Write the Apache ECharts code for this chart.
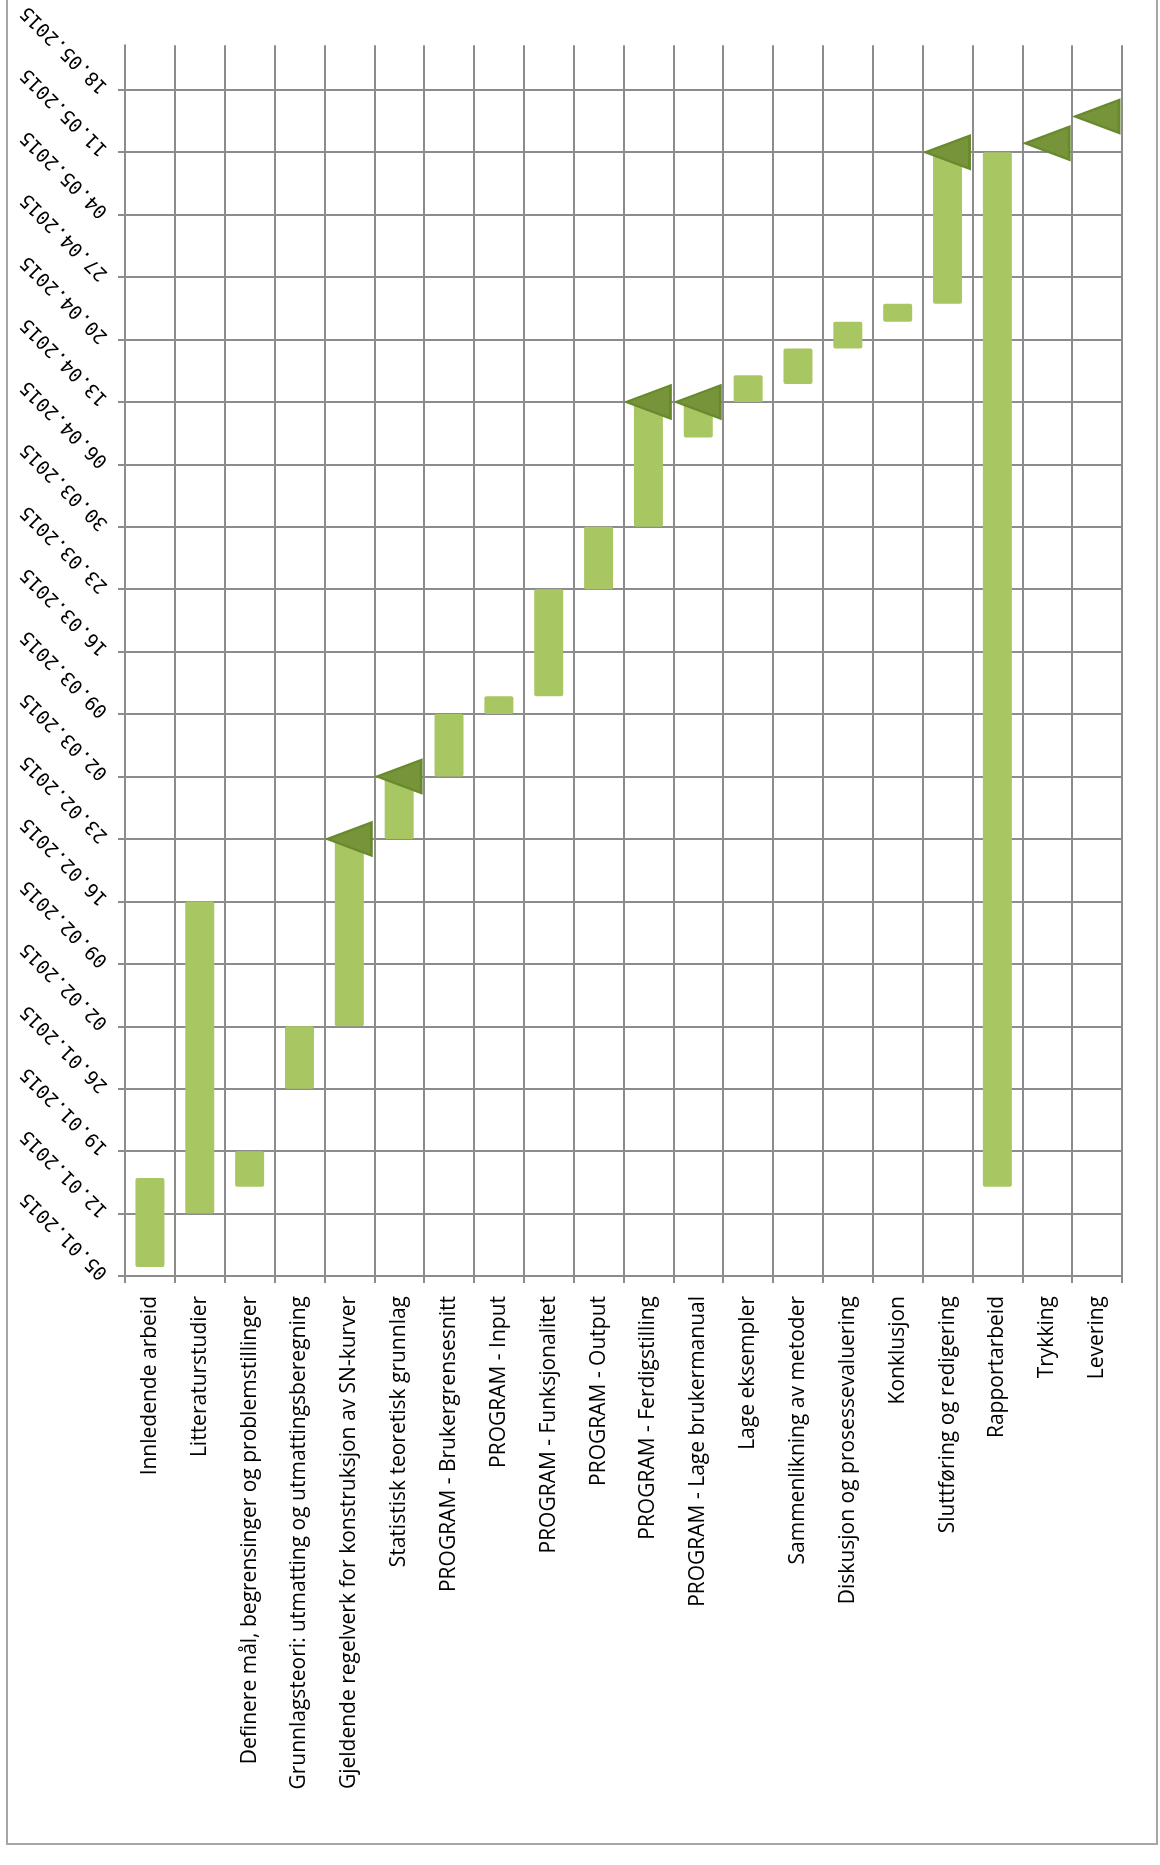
<!DOCTYPE html>
<html>
<head>
<meta charset="utf-8">
<title>Fremdriftsplan</title>
<script src="https://cdn.jsdelivr.net/npm/echarts@6/dist/echarts.min.js"></script>
<style>
  html, body { margin: 0; padding: 0; background: #ffffff; }
  #chart { width: 1160px; height: 1865px; }
</style>
</head>
<body>
<div id="chart"></div>
<script>
// Activities (one column each), with start and end date of the work period
const categories = [
  'Innledende arbeid',
  'Litteraturstudier',
  'Definere mål, begrensinger og problemstillinger',
  'Grunnlagsteori: utmatting og utmattingsberegning',
  'Gjeldende regelverk for konstruksjon av SN-kurver',
  'Statistisk teoretisk grunnlag',
  'PROGRAM - Brukergrensesnitt',
  'PROGRAM - Input',
  'PROGRAM - Funksjonalitet',
  'PROGRAM - Output',
  'PROGRAM - Ferdigstilling',
  'PROGRAM - Lage brukermanual',
  'Lage eksempler',
  'Sammenlikning av metoder',
  'Diskusjon og prosessevaluering',
  'Konklusjon',
  'Sluttføring og redigering',
  'Rapportarbeid',
  'Trykking',
  'Levering'
];

const startDates = [
  '06.01.2015', '12.01.2015', '15.01.2015', '26.01.2015', '02.02.2015',
  '23.02.2015', '02.03.2015', '09.03.2015', '11.03.2015', '23.03.2015',
  '30.03.2015', '09.04.2015', '13.04.2015', '15.04.2015', '19.04.2015',
  '22.04.2015', '24.04.2015', '15.01.2015', null, null
];

const endDates = [
  '16.01.2015', '16.02.2015', '19.01.2015', '02.02.2015', '23.02.2015',
  '02.03.2015', '09.03.2015', '11.03.2015', '23.03.2015', '30.03.2015',
  '13.04.2015', '13.04.2015', '16.04.2015', '19.04.2015', '22.04.2015',
  '24.04.2015', '11.05.2015', '11.05.2015', null, null
];

// Milestones (deadlines) shown as triangles
const milestoneDates = [
  null, null, null, null, '23.02.2015',
  '02.03.2015', null, null, null, null,
  '13.04.2015', '13.04.2015', null, null, null,
  null, '11.05.2015', null, '12.05.2015', '15.05.2015'
];

// Date axis: weekly ticks from 05.01.2015, axis ends on 23.05.2015
const axisStartDate = '05.01.2015';
const axisEndDate = '23.05.2015';
const tickStepDays = 7;

const DAY_MS = 86400000;
function parseDate(s) {
  const p = s.split('.');
  return Date.UTC(+p[2], +p[1] - 1, +p[0]);
}
const originMs = parseDate(axisStartDate);
function toDay(s) {
  return s == null ? null : Math.round((parseDate(s) - originMs) / DAY_MS);
}
function pad(n) { return (n < 10 ? '0' : '') + n; }
function formatDay(d) {
  const dt = new Date(originMs + d * DAY_MS);
  return pad(dt.getUTCDate()) + '.' + pad(dt.getUTCMonth() + 1) + '.' + dt.getUTCFullYear();
}

const startDays = startDates.map(toDay);
const durationDays = endDates.map((e, i) =>
  e == null || startDates[i] == null ? null : toDay(e) - toDay(startDates[i]));
const milestonePoints = [];
milestoneDates.forEach((m, i) => {
  if (m != null) milestonePoints.push([categories[i], toDay(m)]);
});

const gridColor = '#8c8c8c';
const chart = echarts.init(document.getElementById('chart'), null, { renderer: 'canvas' });

chart.setOption({
  animation: false,
  backgroundColor: '#ffffff',
  graphic: [{
    type: 'polyline',
    shape: { points: [[7, -4], [7, 1844], [1157, 1844], [1157, -4]] },
    style: { stroke: '#a6a6a6', lineWidth: 2, fill: null },
    silent: true
  }],
  grid: { left: 125, right: 38, top: 39, bottom: 589, containLabel: false },
  xAxis: {
    type: 'category',
    data: categories,
    boundaryGap: true,
    axisLine: { show: true, lineStyle: { color: gridColor, width: 2 } },
    axisTick: { show: true, length: 7, alignWithLabel: false, interval: 0,
                lineStyle: { color: gridColor, width: 2 } },
    splitLine: { show: true, interval: 0, lineStyle: { color: gridColor, width: 2 } },
    axisLabel: {
      interval: 0,
      rotate: 90,
      margin: 20,
      color: '#000000',
      fontFamily: 'Open Sans',
      fontSize: 21
    }
  },
  yAxis: {
    type: 'value',
    min: 0,
    max: toDay(axisEndDate),
    interval: tickStepDays,
    axisLine: { show: true, lineStyle: { color: gridColor, width: 2 } },
    axisTick: { show: true, length: 7, lineStyle: { color: gridColor, width: 2 } },
    splitLine: { show: true, showMaxLine: false, lineStyle: { color: gridColor, width: 2 } },
    axisLabel: {
      rotate: 135,
      margin: 20,
      showMaxLabel: false,
      color: '#000000',
      fontFamily: 'DejaVu Sans Mono',
      fontSize: 19,
      formatter: (v) => formatDay(v)
    }
  },
  series: [
    {
      name: 'start',
      type: 'bar',
      stack: 'plan',
      data: startDays,
      barWidth: 29,
      itemStyle: { color: 'transparent' },
      silent: true
    },
    {
      name: 'periode',
      type: 'bar',
      stack: 'plan',
      data: durationDays,
      barWidth: 29,
      itemStyle: { color: '#a8c762', borderRadius: 2 }
    },
    {
      name: 'frist',
      type: 'scatter',
      data: milestonePoints,
      symbol: 'triangle',
      symbolRotate: 90,
      symbolSize: [33, 44],
      z: 5,
      itemStyle: { color: '#77943a', borderColor: '#688a2e', borderWidth: 2.5, opacity: 1 }
    }
  ]
});
</script>
</body>
</html>
